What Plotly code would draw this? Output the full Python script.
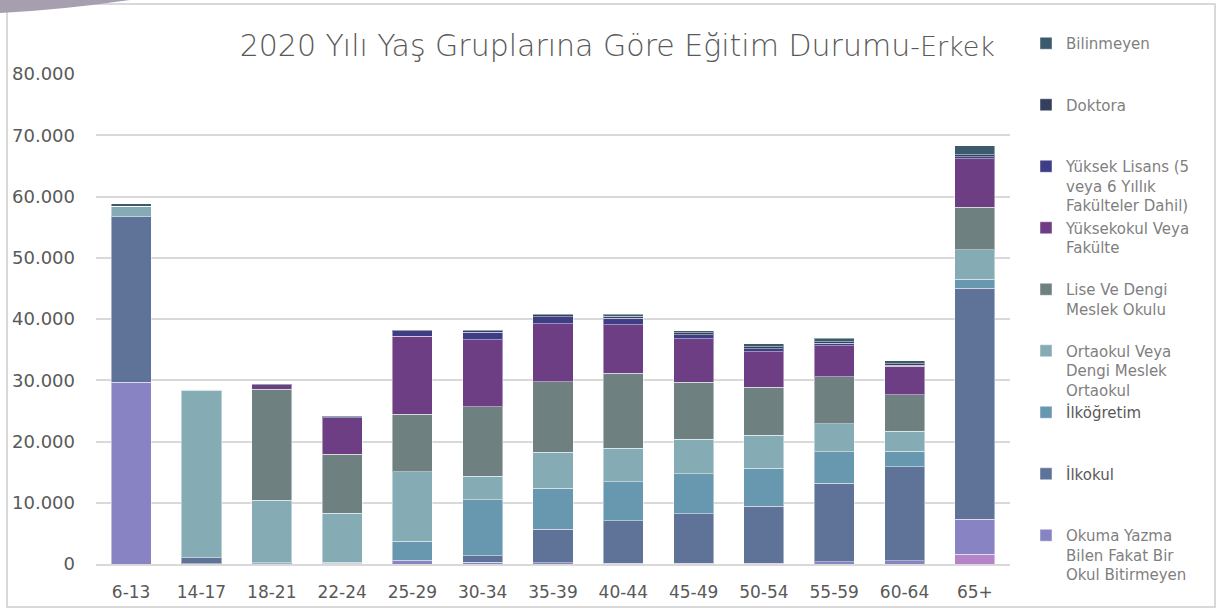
import plotly.graph_objects as go

categories = ["6-13", "14-17", "18-21", "22-24", "25-29", "30-34", "35-39",
              "40-44", "45-49", "50-54", "55-59", "60-64", "65+"]

okuma_yazma_bilmeyen = [0, 0, 0, 0, 0, 0, 0, 0, 0, 0, 0, 0, 1600]
okuma_yazma_bilen = [29700, 50, 50, 50, 500, 250, 200, 150, 150, 150, 400, 500, 5700]
ilkokul = [27000, 950, 150, 100, 150, 1100, 5450, 6900, 8050, 9250, 12750, 15360, 37700]
ilkogretim = [0, 0, 0, 150, 3100, 9180, 6680, 6350, 6520, 6240, 5150, 2550, 1520]
ortaokul = [1700, 27400, 10200, 8000, 11300, 3800, 5920, 5490, 5650, 5380, 4560, 3260, 4780]
lise = [0, 150, 18100, 9600, 9400, 11360, 11510, 12270, 9340, 7820, 7720, 5980, 6960]
yuksekokul = [0, 0, 800, 6000, 12760, 10960, 9440, 7930, 7060, 5810, 5050, 4610, 7870]
yuksek_lisans = [0, 0, 0, 150, 870, 1190, 1150, 1030, 700, 490, 430, 200, 330]
doktora = [0, 0, 0, 0, 0, 250, 380, 350, 300, 350, 250, 250, 320]
bilinmeyen = [400, 50, 50, 50, 100, 100, 100, 300, 300, 470, 510, 470, 1520]

PAD = "<br>&nbsp;"
series = [
    ("Okuma Yazma Bilmeyen", okuma_yazma_bilmeyen, "#B384C8", False, "#7F7F7F"),
    ("Okuma Yazma<br>Bilen Fakat Bir<br>Okul Bitirmeyen", okuma_yazma_bilen, "#8884C4", True, "#7F7F7F"),
    ("İlkokul" + PAD + PAD, ilkokul, "#5F7298", True, "#595959"),
    ("İlköğretim" + PAD + PAD, ilkogretim, "#6897B0", True, "#595959"),
    ("Ortaokul Veya<br>Dengi Meslek<br>Ortaokul", ortaokul, "#85ABB4", True, "#7F7F7F"),
    ("Lise Ve Dengi<br>Meslek Okulu" + PAD, lise, "#6F8080", True, "#7F7F7F"),
    ("Yüksekokul Veya<br>Fakülte" + PAD, yuksekokul, "#6D3E84", True, "#7F7F7F"),
    ("Yüksek Lisans (5<br>veya 6 Yıllık<br>Fakülteler Dahil)", yuksek_lisans, "#3F3D85", True, "#7F7F7F"),
    ("Doktora" + PAD + PAD, doktora, "#333F5C", True, "#7F7F7F"),
    ("Bilinmeyen" + PAD + PAD, bilinmeyen, "#3C5A6E", True, "#7F7F7F"),
]

fig = go.Figure()
for name, vals, color, show, tcol in series:
    fig.add_trace(go.Bar(
        x=categories, y=vals,
        name=f"<span style='color:{tcol}'>{name}</span>",
        marker=dict(color=color, line=dict(color="rgba(255,255,255,0.45)", width=1)),
        showlegend=show,
    ))

W, H = 1217, 610
L, R, T, B = 96, 207, 74, 46
pw, ph = W - L - R, H - T - B

def px(x):
    return (x - L) / pw

def py(y):
    return (H - B - y) / ph

fig.update_layout(
    width=W, height=H,
    barmode="stack",
    bargap=0.43,
    separators=",.",
    paper_bgcolor="white",
    plot_bgcolor="white",
    margin=dict(l=L, r=R, t=T, b=B, autoexpand=False),
    font=dict(family="DejaVu Sans", color="#595959"),
    title=dict(
        text="2020 Yılı Yaş Gruplarına Göre Eğitim Durumu<span style='font-size:27px'>-Erkek</span>",
        x=995 / W, xanchor="right", xref="container",
        y=1 - 45 / H, yanchor="middle", yref="container",
        font=dict(size=30, color="#595959", weight=300),
    ),
    xaxis=dict(
        showgrid=False, showline=True, linecolor="#D9D9D9", linewidth=1.5,
        ticks="", tickfont=dict(size=17, color="#595959"), ticklabelstandoff=12,
    ),
    yaxis=dict(
        range=[0, 80000], dtick=10000, tickformat=",.0f",
        showgrid=True, gridcolor="#D9D9D9", gridwidth=1.5,
        zeroline=False, ticks="", ticklabelstandoff=20,
        tickfont=dict(size=18, color="#595959"),
    ),
    legend=dict(
        x=px(1026), xanchor="left",
        yref="container", y=1 - 27 / H, yanchor="top",
        maxheight=600,
        traceorder="reversed", valign="top",
        font=dict(size=15, color="#7F7F7F"),
        bgcolor="rgba(0,0,0,0)", itemclick=False,
    ),
    shapes=[
        dict(type="rect", xref="paper", yref="paper",
             x0=px(7), x1=px(1215), y0=py(607), y1=py(4),
             line=dict(color="#D9D9D9", width=2), layer="below"),
        dict(type="path", xref="paper", yref="paper",
             path=(f"M {px(0)},{py(0)} L {px(130)},{py(0)} "
                   f"Q {px(60)},{py(10)} {px(0)},{py(13)} Z"),
             fillcolor="#A79EB0", line=dict(width=0), layer="above"),
    ],
)

fig.write_html("out.html",
               config={"displayModeBar": False},
               post_script="document.body.style.margin='0';document.body.style.overflow='hidden';")
